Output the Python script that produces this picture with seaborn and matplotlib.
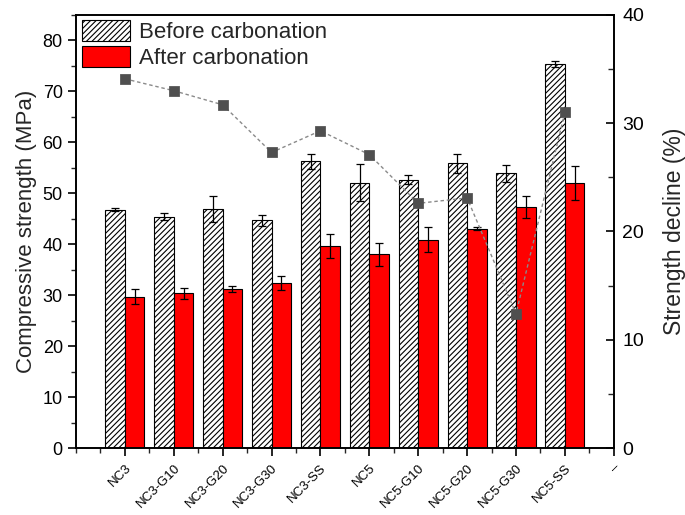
import numpy as np
import pandas as pd
import matplotlib
matplotlib.use("Agg")
import matplotlib.pyplot as plt
import matplotlib.transforms as mtransforms
import seaborn as sns
from matplotlib.patches import Patch
from matplotlib.ticker import MultipleLocator

sns.set_theme(style="ticks")
plt.rcParams['font.family'] = ['Liberation Sans', 'DejaVu Sans']
plt.rcParams['hatch.linewidth'] = 0.8

categories = ["NC3", "NC3-G10", "NC3-G20", "NC3-G30", "NC3-SS",
              "NC5", "NC5-G10", "NC5-G20", "NC5-G30", "NC5-SS"]
before = [46.8, 45.4, 46.9, 44.7, 56.3, 52.1, 52.7, 55.9, 53.9, 75.4]
before_err = [0.3, 0.7, 2.5, 1.1, 1.5, 3.7, 0.9, 1.9, 1.6, 0.55]
after = [29.7, 30.4, 31.3, 32.4, 39.7, 38.0, 40.9, 43.0, 47.3, 52.0]
after_err = [1.5, 1.1, 0.6, 1.4, 2.4, 2.3, 2.4, 0.3, 2.2, 3.3]
decline = [34.1, 33.0, 31.7, 27.3, 29.3, 27.1, 22.6, 23.1, 12.4, 31.0]
extra_tick_label = "–"
series_names = ["Before carbonation", "After carbonation"]

df = pd.DataFrame({
    "cat": categories * 2,
    "val": before + after,
    "series": [series_names[0]] * len(categories) + [series_names[1]] * len(categories),
})

fig = plt.figure(figsize=(6.85, 5.15), dpi=100)
ax = fig.add_axes([0.111, 0.130, 0.785, 0.841])

sns.barplot(data=df, x="cat", y="val", hue="series", order=categories,
            hue_order=series_names, palette=["white", "#FF0000"],
            errorbar=None, width=0.8, ax=ax, legend=False,
            edgecolor="black", linewidth=0.8, saturation=1)

n = len(categories)
for i, p in enumerate(ax.patches[:n]):
    p.set_hatch("//////")
    p.set_edgecolor("black")

idx = np.arange(n)
ax.errorbar(idx - 0.2, before, yerr=before_err, fmt="none", ecolor="black",
            elinewidth=0.9, capsize=3, capthick=0.9, zorder=5)
ax.errorbar(idx + 0.2, after, yerr=after_err, fmt="none", ecolor="black",
            elinewidth=0.9, capsize=3, capthick=0.9, zorder=5)

ax.set_xlim(-1, n)
ax.set_ylim(0, 85)
ax.set_xticks(np.arange(n + 1))
ax.set_xticklabels(categories + [extra_tick_label], rotation=45, ha="right",
                   rotation_mode="anchor", fontsize=9.5)
offset = mtransforms.ScaledTranslation(3 / 100, 0, fig.dpi_scale_trans)
for lab in ax.get_xticklabels():
    lab.set_transform(lab.get_transform() + offset)
ax.xaxis.set_minor_locator(MultipleLocator(0.5))
ax.yaxis.set_major_locator(MultipleLocator(10))
ax.yaxis.set_minor_locator(MultipleLocator(5))
ax.tick_params(axis="both", which="major", direction="out", length=6, width=1.2,
               labelsize=13, colors="black")
ax.tick_params(axis="x", which="major", labelsize=9.5, pad=4)
ax.tick_params(axis="both", which="minor", direction="out", length=3.5, width=1.0)
ax.set_xlabel("")
ax.set_ylabel("Compressive strength (MPa)", fontsize=16, labelpad=4)
for s in ax.spines.values():
    s.set_linewidth(1.2)
    s.set_color("black")

ax2 = ax.twinx()
sns.lineplot(x=idx, y=decline, ax=ax2, color="#8a8a8a", linewidth=1.0,
             linestyle=(0, (2.5, 2)), zorder=3)
sns.scatterplot(x=idx, y=decline, ax=ax2, marker="s", s=45, color="#4f4f4f",
                edgecolor="#4f4f4f", zorder=4)
ax2.set_ylim(0, 40)
ax2.set_xlim(-1, n)
ax2.yaxis.set_major_locator(MultipleLocator(10))
ax2.yaxis.set_minor_locator(MultipleLocator(5))
ax2.tick_params(axis="y", which="major", direction="in", length=6, width=1.2,
                labelsize=14, colors="black", pad=6)
ax2.tick_params(axis="y", which="minor", direction="in", length=4, width=1.0)
ax2.set_ylabel("Strength decline (%)", fontsize=16.5, labelpad=14)
for s in ax2.spines.values():
    s.set_linewidth(1.2)
    s.set_color("black")

handles = [Patch(facecolor="white", edgecolor="black", hatch="//////", linewidth=0.8),
           Patch(facecolor="#FF0000", edgecolor="black", linewidth=0.8)]
ax.legend(handles, series_names, loc="upper left", frameon=False, fontsize=16,
          handlelength=2.2, handleheight=1.05, borderaxespad=0.15, labelspacing=0.12,
          handletextpad=0.4, borderpad=0.1)

fig.savefig("out.png", dpi=100)
